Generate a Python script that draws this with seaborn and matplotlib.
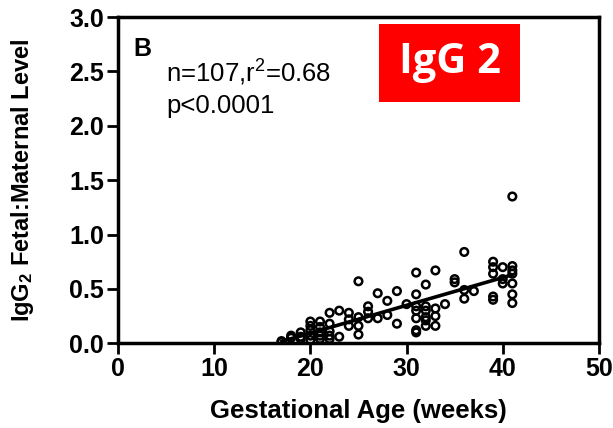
import matplotlib
matplotlib.use("Agg")
import matplotlib.pyplot as plt
import matplotlib.patches as mpatches
import pandas as pd
import seaborn as sns

# gestational age (weeks) and IgG2 fetal:maternal ratio
weeks = [17, 17,
         18, 18,
         19, 19, 19,
         20, 20, 20, 20, 20,
         21, 21, 21, 21, 21,
         22, 22, 22, 22, 22,
         23, 23,
         24, 24, 24,
         25, 25, 25, 25,
         26, 26, 26,
         27, 27,
         28, 28,
         29, 29,
         30,
         31, 31, 31, 31, 31, 31, 31,
         32, 32, 32, 32, 32, 32,
         33, 33, 33, 33,
         34,
         35, 35,
         36, 36, 36,
         37,
         39, 39, 39, 39, 39,
         40, 40, 40,
         41, 41, 41, 41, 41, 41, 41]
ratio = [0.01, 0.02,
         0.05, 0.07,
         0.04, 0.06, 0.10,
         0.03, 0.07, 0.12, 0.16, 0.20,
         0.04, 0.07, 0.10, 0.15, 0.20,
         0.04, 0.07, 0.11, 0.18, 0.28,
         0.06, 0.30,
         0.16, 0.22, 0.28,
         0.08, 0.16, 0.24, 0.57,
         0.23, 0.29, 0.34,
         0.23, 0.46,
         0.26, 0.39,
         0.18, 0.48,
         0.36,
         0.10, 0.12, 0.23, 0.30, 0.34, 0.45, 0.65,
         0.16, 0.21, 0.24, 0.30, 0.34, 0.54,
         0.16, 0.25, 0.32, 0.67,
         0.36,
         0.56, 0.59,
         0.41, 0.49, 0.84,
         0.48,
         0.40, 0.43, 0.64, 0.70, 0.75,
         0.55, 0.59, 0.70,
         0.37, 0.45, 0.55, 0.64, 0.67, 0.71, 1.35]

df = pd.DataFrame({'weeks': weeks, 'ratio': ratio})

sns.set_style('ticks')
plt.rcParams['font.family'] = ['Liberation Sans', 'DejaVu Sans']
plt.rcParams['text.color'] = 'black'
plt.rcParams['axes.labelcolor'] = 'black'
plt.rcParams['xtick.color'] = 'black'
plt.rcParams['ytick.color'] = 'black'
plt.rcParams['axes.edgecolor'] = 'black'
plt.rcParams['mathtext.fontset'] = 'custom'
plt.rcParams['mathtext.rm'] = 'Liberation Sans:bold'
plt.rcParams['mathtext.it'] = 'Liberation Sans:bold'
plt.rcParams['mathtext.bf'] = 'Liberation Sans:bold'

fig = plt.figure(figsize=(6.13, 4.28), dpi=100)
ax = fig.add_axes([0.1925, 0.198, 0.7845, 0.762])

sns.scatterplot(data=df, x='weeks', y='ratio', ax=ax, marker='o', s=30,
                facecolor='none', edgecolor='black', linewidth=1.8)
sns.regplot(data=df, x='weeks', y='ratio', ax=ax, scatter=False, ci=None,
            color='black', line_kws={'linewidth': 2.6})

ax.set_xlim(0, 50)
ax.set_ylim(0, 3.0)
ax.set_xticks([0, 10, 20, 30, 40, 50])
ax.set_yticks([0.0, 0.5, 1.0, 1.5, 2.0, 2.5, 3.0])
ax.set_yticklabels(['0.0', '0.5', '1.0', '1.5', '2.0', '2.5', '3.0'])
ax.tick_params(axis='both', labelsize=18, width=2, length=8, direction='out', pad=2)
for lab in ax.get_xticklabels() + ax.get_yticklabels():
    lab.set_fontweight('bold')
for sp in ax.spines.values():
    sp.set_linewidth(2.5)

ax.set_xlabel('Gestational Age (weeks)', fontsize=18.5, fontweight='bold', labelpad=13)
ax.set_ylabel('IgG$_2$ Fetal:Maternal Level', fontsize=17, fontweight='bold', labelpad=24)

ax.text(0.031, 0.88, 'B', transform=ax.transAxes, fontsize=18, fontweight='bold')
ax.text(0.10, 0.80, 'n=107,r$^\\mathregular{2}$=0.68', transform=ax.transAxes, fontsize=18.5)
ax.text(0.10, 0.705, 'p<0.0001', transform=ax.transAxes, fontsize=18.5)

# red label box in the upper right
fig.patches.append(mpatches.Rectangle((0.6183, 0.7617), 0.230, 0.1822, transform=fig.transFigure,
                                      facecolor='#ff0000', edgecolor='none', zorder=5))
fig.text(0.734, 0.853, 'IgG 2', fontsize=30, fontweight='bold', color='white',
         family=['Open Sans', 'DejaVu Sans'], ha='center', va='center', zorder=6)

fig.savefig('out.png', dpi=100)
